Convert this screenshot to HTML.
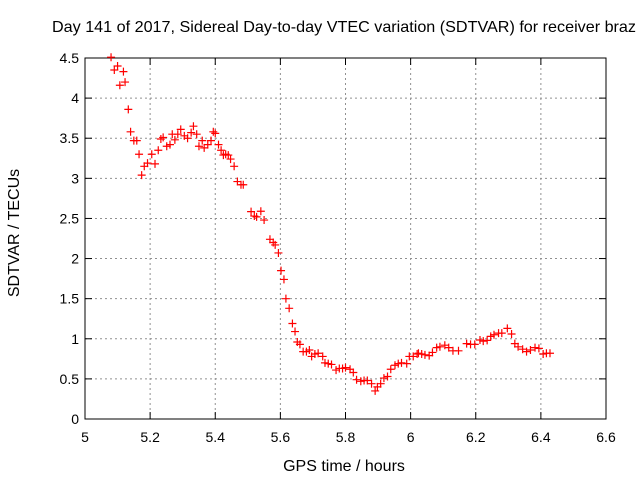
<!DOCTYPE html>
<html><head><meta charset="utf-8"><style>
body{margin:0;background:#fff}
svg text{font-family:"Liberation Sans",sans-serif;font-size:14px;fill:#000}
svg text.big{font-size:16px}
</style></head><body>
<svg id="chart" width="640" height="480" xmlns="http://www.w3.org/2000/svg">
<rect width="640" height="480" fill="#fff"/>
<g id="grid"></g>
<g id="axes"></g>
<g id="marks"></g>
<text class="big" x="52" y="32" textLength="584" lengthAdjust="spacingAndGlyphs">Day 141 of 2017, Sidereal Day-to-day VTEC variation (SDTVAR) for receiver braz</text>
<text class="big" x="344" y="471" text-anchor="middle">GPS time / hours</text>
<text class="big" x="0" y="0" text-anchor="middle" transform="translate(19,233) rotate(-90)">SDTVAR / TECUs</text>
</svg>
<script>
const xTicks=[5,5.2,5.4,5.6,5.8,6,6.2,6.4,6.6];
const xTickLabels=["5","5.2","5.4","5.6","5.8","6","6.2","6.4","6.6"];
const yTicks=[0,0.5,1,1.5,2,2.5,3,3.5,4,4.5];
const yTickLabels=["0","0.5","1","1.5","2","2.5","3","3.5","4","4.5"];
const times=[5.08,5.09,5.10,5.118,5.107,5.123,5.133,5.14,5.15,5.159,5.166,5.174,5.182,5.192,5.205,5.215,5.225,5.233,5.24,5.251,5.261,5.268,5.276,5.285,5.294,5.305,5.315,5.326,5.333,5.343,5.35,5.36,5.366,5.377,5.387,5.394,5.40,5.41,5.418,5.425,5.432,5.44,5.447,5.458,5.468,5.479,5.486,5.51,5.52,5.527,5.54,5.55,5.568,5.578,5.584,5.594,5.602,5.611,5.617,5.627,5.637,5.645,5.652,5.66,5.67,5.68,5.689,5.696,5.706,5.716,5.73,5.737,5.747,5.757,5.771,5.781,5.791,5.80,5.814,5.824,5.834,5.847,5.857,5.867,5.88,5.891,5.898,5.908,5.918,5.929,5.939,5.952,5.962,5.972,5.988,5.996,6.008,6.02,6.024,6.034,6.044,6.057,6.067,6.08,6.09,6.105,6.117,6.13,6.147,6.172,6.184,6.197,6.213,6.223,6.235,6.246,6.256,6.27,6.28,6.297,6.31,6.32,6.33,6.344,6.356,6.368,6.382,6.394,6.407,6.417,6.428];
const sdtvar=[4.51,4.35,4.40,4.33,4.16,4.20,3.86,3.58,3.47,3.47,3.30,3.04,3.15,3.19,3.30,3.18,3.35,3.49,3.51,3.40,3.42,3.55,3.48,3.55,3.61,3.53,3.50,3.57,3.65,3.55,3.40,3.47,3.38,3.42,3.47,3.58,3.56,3.42,3.35,3.29,3.30,3.29,3.24,3.15,2.96,2.92,2.92,2.585,2.53,2.52,2.59,2.48,2.24,2.20,2.17,2.07,1.85,1.74,1.50,1.38,1.19,1.09,0.96,0.93,0.84,0.84,0.86,0.78,0.81,0.82,0.78,0.70,0.69,0.68,0.61,0.63,0.63,0.64,0.62,0.58,0.49,0.47,0.48,0.48,0.44,0.35,0.40,0.44,0.51,0.53,0.62,0.67,0.69,0.70,0.69,0.78,0.78,0.81,0.82,0.81,0.80,0.79,0.83,0.89,0.90,0.92,0.89,0.85,0.85,0.94,0.93,0.93,0.985,0.97,0.98,1.03,1.05,1.07,1.07,1.13,1.06,0.94,0.90,0.87,0.84,0.86,0.89,0.88,0.81,0.82,0.82];
const L=85,R=606,T=58,B=419;
const xs=v=>L+(v-5)/(6.6-5)*(R-L);
const ys=v=>B-(v/4.5)*(B-T);
const NS="http://www.w3.org/2000/svg";
function mk(tag,attrs,parent){const e=document.createElementNS(NS,tag);for(const k in attrs)e.setAttribute(k,attrs[k]);parent.appendChild(e);return e;}
const grid=document.getElementById('grid'),axes=document.getElementById('axes'),marks=document.getElementById('marks');
xTicks.forEach((t,i)=>{const x=xs(t);
 if(i>0&&i<xTicks.length-1){const g=mk('line',{x1:x,x2:x,y1:T,y2:B,stroke:'#909090','stroke-dasharray':'2,3'},grid);}
 mk('line',{x1:x,x2:x,y1:B,y2:B-7,stroke:'#000'},axes);mk('line',{x1:x,x2:x,y1:T,y2:T+7,stroke:'#000'},axes);
 const tx=mk('text',{x:x,y:B+23,'text-anchor':'middle'},axes);tx.textContent=xTickLabels[i];
 });
yTicks.forEach((t,i)=>{const y=ys(t);
 if(i>0&&i<yTicks.length-1){const g=mk('line',{x1:L,x2:R,y1:y,y2:y,stroke:'#909090','stroke-dasharray':'2,3'},grid);}
 mk('line',{x1:L,x2:L+7,y1:y,y2:y,stroke:'#000'},axes);mk('line',{x1:R,x2:R-7,y1:y,y2:y,stroke:'#000'},axes);
 const tx=mk('text',{x:L-6,y:y+5,'text-anchor':'end'},axes);tx.textContent=yTickLabels[i];
 });
const fr=mk('rect',{x:L,y:T,width:R-L,height:B-T,fill:'none',stroke:'#000'},axes);

times.forEach((t,i)=>{const x=xs(t),y=ys(sdtvar[i]);
 const p=mk('path',{d:`M${x-4},${y}H${x+4}M${x},${y-4}V${y+4}`,stroke:'#ff0000','stroke-width':1.2},marks);
 });
</script>
</body></html>
